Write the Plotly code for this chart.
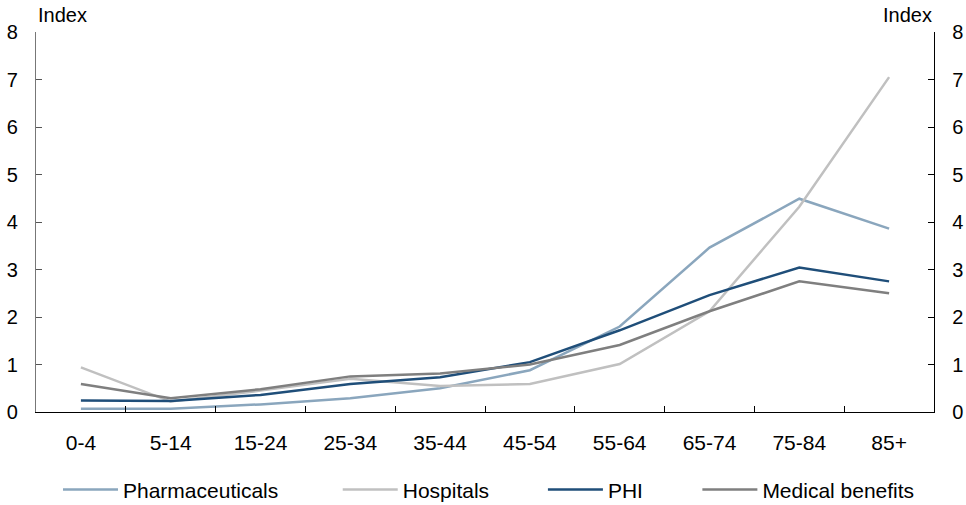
import plotly.graph_objects as go

# age groups along the x axis
age_groups = ["0-4", "5-14", "15-24", "25-34", "35-44", "45-54", "55-64", "65-74", "75-84", "85+"]

# index values
pharmaceuticals = [0.07, 0.07, 0.16, 0.29, 0.50, 0.88, 1.80, 3.46, 4.49, 3.86]
hospitals = [0.94, 0.22, 0.45, 0.70, 0.55, 0.59, 1.01, 2.12, 4.32, 7.05]
phi = [0.24, 0.23, 0.36, 0.59, 0.73, 1.05, 1.72, 2.46, 3.04, 2.75]
medical_benefits = [0.59, 0.29, 0.48, 0.75, 0.81, 1.00, 1.41, 2.12, 2.75, 2.50]

y_ticks = [0, 1, 2, 3, 4, 5, 6, 7, 8]

FONT = "Liberation Sans, Arial, sans-serif"
FS = 20

series = [
    ("Pharmaceuticals", pharmaceuticals, "#8aa6bd", "legend"),
    ("Hospitals", hospitals, "#c0c0c0", "legend2"),
    ("PHI", phi, "#1f4e79", "legend3"),
    ("Medical benefits", medical_benefits, "#7f7f7f", "legend4"),
]

fig = go.Figure()
for name, vals, col, leg in series:
    fig.add_trace(go.Scatter(x=age_groups, y=vals, mode="lines", name=name,
                             line=dict(color=col, width=2.5), legend=leg))

# invisible trace so the right hand axis gets drawn
fig.add_trace(go.Scatter(x=age_groups, y=phi, yaxis="y2", mode="lines",
                         line=dict(width=0), showlegend=False, hoverinfo="skip"))

# one legend per entry so the spacing follows the original
legend_x = [0.0245, 0.336, 0.5645, 0.7365]
legends = {}
for i, lx in enumerate(legend_x):
    key = "legend" if i == 0 else "legend%d" % (i + 1)
    legends[key] = dict(x=lx, y=0.03, xref="paper", yref="container",
                        xanchor="left", yanchor="middle",
                        orientation="h", itemwidth=55,
                        font=dict(family=FONT, size=21, color="black"),
                        bgcolor="rgba(0,0,0,0)")

fig.update_layout(
    width=966, height=505,
    margin=dict(l=36, r=32, t=32, b=93, autoexpand=False),
    plot_bgcolor="white", paper_bgcolor="white",
    font=dict(family=FONT, size=FS, color="black"),
    showlegend=True,
    xaxis=dict(type="category", range=[-0.5, 9.5], automargin=False,
               showline=True, linecolor="black", linewidth=1.3,
               ticks="inside", ticklen=6, tickcolor="black", tickson="boundaries",
               ticklabelstandoff=12, showgrid=False, zeroline=False,
               tickfont=dict(family=FONT, size=21)),
    yaxis=dict(range=[0, 8], tickvals=y_ticks, automargin=False, showline=True,
               linecolor="#777777", linewidth=1.3, ticks="inside", ticklen=6,
               tickcolor="#555555", ticklabelstandoff=13, showgrid=False,
               zeroline=False, tickfont=dict(family=FONT, size=FS)),
    yaxis2=dict(range=[0, 8], tickvals=y_ticks, overlaying="y", side="right",
                automargin=False, showline=True, linecolor="black", linewidth=1.3,
                ticks="inside", ticklen=6, tickcolor="black", ticklabelstandoff=13,
                showgrid=False, zeroline=False, tickfont=dict(family=FONT, size=FS)),
    annotations=[
        dict(text="Index", xref="paper", yref="paper", x=0, y=1, xanchor="left",
             yanchor="bottom", yshift=4, showarrow=False, font=dict(size=20)),
        dict(text="Index", xref="paper", yref="paper", x=1, y=1, xanchor="right",
             yanchor="bottom", yshift=4, showarrow=False, font=dict(size=20)),
    ],
    **legends,
)

# drop the browser's default body margin so the figure sits at the page corner
fig.write_html("out.html", config={"displayModeBar": False},
               post_script="document.body.style.margin='0';"
                           "document.body.style.overflow='hidden';")
